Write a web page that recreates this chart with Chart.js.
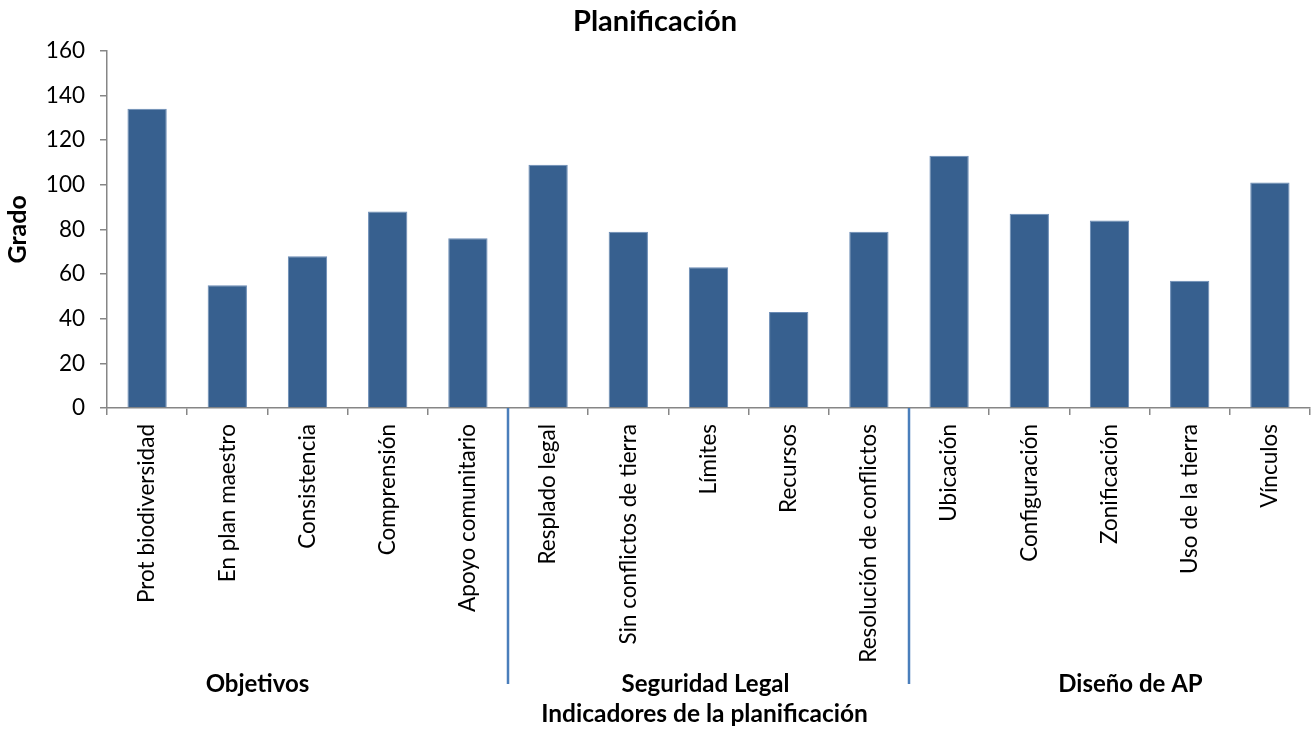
<!DOCTYPE html>
<html>
<head>
<meta charset="utf-8">
<script src="https://cdn.jsdelivr.net/npm/chart.js@4"></script>
<style>
    html, body { margin: 0; background: #fff; }
    #wrap { width: 1313px; height: 729px; }
</style>
</head>
<body>
<div id="wrap"><canvas id="chart"></canvas></div>
<script>
const categories = [
    'Prot biodiversidad', 'En plan maestro', 'Consistencia', 'Comprensión', 'Apoyo comunitario',
    'Resplado legal', 'Sin conflictos de tierra', 'Límites', 'Recursos', 'Resolución de conflictos',
    'Ubicación', 'Configuración', 'Zonificación', 'Uso de la tierra', 'Vínculos'
];
const grados = [134, 55, 68, 88, 76, 109, 79, 63, 43, 79, 113, 87, 84, 57, 101];
const groupNames = ['Objetivos', 'Seguridad Legal', 'Diseño de AP'];
const groupSizes = [5, 5, 5];

const FONT = 'Lato, "Noto Sans", sans-serif';

// draws the second level of category labels, the separators and the x axis title
const groupAxis = {
    id: 'groupAxis',
    afterDraw(chart, args, opts) {
        const ctx = chart.ctx;
        const x = chart.scales.x;
        const half = (x.getPixelForValue(1) - x.getPixelForValue(0)) / 2;
        ctx.save();
        ctx.fillStyle = '#000';
        ctx.textAlign = 'center';
        ctx.textBaseline = 'middle';
        ctx.font = 'bold 24px ' + FONT;
        let start = 0;
        groupNames.forEach((name, i) => {
            const end = start + groupSizes[i] - 1;
            const left = x.getPixelForValue(start) - half;
            const right = x.getPixelForValue(end) + half;
            ctx.fillText(name, (left + right) / 2 + opts.shift[i], opts.labelY);
            if (i < groupNames.length - 1) {
                ctx.strokeStyle = '#4a7ebb';
                ctx.lineWidth = 2.5;
                ctx.beginPath();
                ctx.moveTo(right, x.top);
                ctx.lineTo(right, opts.lineEnd);
                ctx.stroke();
            }
            start = end + 1;
        });
        ctx.font = 'bold 24.5px ' + FONT;
        ctx.fillText('Indicadores de la planificación', (x.left + x.right) / 2 - 4, opts.titleY);
        ctx.restore();
    }
};

new Chart(document.getElementById('chart'), {
    type: 'bar',
    data: {
        labels: categories,
        datasets: [{
            label: 'Grado',
            data: grados,
            backgroundColor: '#37608f',
            borderColor: '#6a8bb5',
            borderWidth: 1,
            categoryPercentage: 1,
            barPercentage: 0.49
        }]
    },
    options: {
        responsive: true,
        maintainAspectRatio: false,
        animation: false,
        layout: { padding: { left: 0, right: 3, top: 0, bottom: 0 } },
        plugins: {
            legend: { display: false },
            tooltip: { enabled: false },
            title: {
                display: true,
                text: 'Planificación',
                color: '#000',
                font: { family: FONT, size: 29, weight: 'bold' },
                padding: { top: 4, bottom: 12 }
            },
            groupAxis: { labelY: 684, titleY: 714, lineEnd: 684, shift: [-50, -3, 21] }
        },
        scales: {
            x: {
                afterFit(scale) { scale.height = 321; },
                border: { color: '#868686', width: 1.5 },
                grid: { offset: true, drawOnChartArea: false, color: '#868686', tickLength: 7, lineWidth: 1.5 },
                ticks: {
                    color: '#000',
                    font: { family: FONT, size: 22.5 },
                    minRotation: 90,
                    maxRotation: 90,
                    autoSkip: false,
                    padding: 9
                }
            },
            y: {
                min: 0,
                max: 160,
                afterFit(scale) { scale.width = 107; },
                border: { color: '#868686', width: 1.5 },
                grid: { drawOnChartArea: false, color: '#868686', tickLength: 7, lineWidth: 1.5 },
                ticks: {
                    stepSize: 20,
                    color: '#000',
                    font: { family: FONT, size: 22.5 },
                    padding: 15
                },
                title: {
                    display: true,
                    text: 'Grado',
                    color: '#000',
                    font: { family: FONT, size: 25, weight: 'bold' },
                    padding: { top: 3, bottom: 0 }
                }
            }
        }
    },
    plugins: [groupAxis]
});
</script>
</body>
</html>
